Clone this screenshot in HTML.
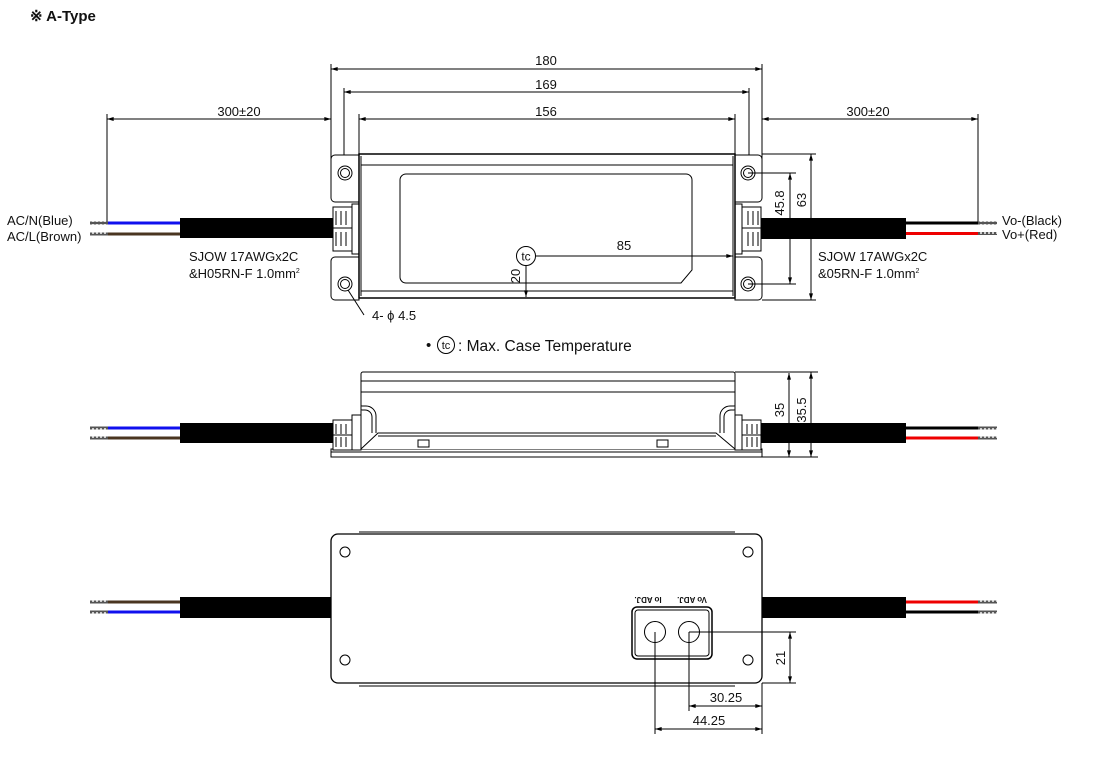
<!DOCTYPE html>
<html><head><meta charset="utf-8"><style>
html,body{margin:0;padding:0;background:#fff}
svg{display:block}
text{font-family:"Liberation Sans",Arial,sans-serif;fill:#111}
</style></head><body>
<svg width="1100" height="759" viewBox="0 0 1100 759" xmlns="http://www.w3.org/2000/svg">
<defs>
<marker id="a" viewBox="0 0 10 6" refX="10" refY="3" markerWidth="8" markerHeight="4" orient="auto-start-reverse" markerUnits="userSpaceOnUse"><path d="M0,0L10,3L0,6z" fill="#000"/></marker>
<pattern id="st" width="4" height="4" patternUnits="userSpaceOnUse"><rect width="4" height="4" fill="#555"/><rect width="2" height="2" fill="#ccc"/></pattern>
<g id="glandL">
<rect x="333" y="207" width="19" height="44" fill="#fff" stroke="#000" stroke-width="1"/>
<rect x="352" y="204" width="7" height="50" fill="#fff" stroke="#000" stroke-width="1"/>
<path d="M336,211v14M341,211v14M346,211v14M336,232v14M341,232v14M346,232v14M333,228h19" stroke="#000" stroke-width="1" fill="none"/>
</g>
</defs>
<text x="30" y="21" font-size="15" font-weight="bold">※ A-Type</text>

<g stroke="#000" stroke-width="1" fill="none">
<line x1="331" y1="64" x2="331" y2="160"/><line x1="762" y1="64" x2="762" y2="160"/>
<line x1="344" y1="88" x2="344" y2="165"/><line x1="749" y1="88" x2="749" y2="165"/>
<line x1="359" y1="114" x2="359" y2="154"/><line x1="735" y1="114" x2="735" y2="154"/>
<line x1="107" y1="114" x2="107" y2="222"/><line x1="978" y1="114" x2="978" y2="222"/>
<line x1="331" y1="69" x2="762" y2="69" marker-start="url(#a)" marker-end="url(#a)"/>
<line x1="344" y1="92" x2="749" y2="92" marker-start="url(#a)" marker-end="url(#a)"/>
<line x1="359" y1="119" x2="735" y2="119" marker-start="url(#a)" marker-end="url(#a)"/>
<line x1="107" y1="119" x2="331" y2="119" marker-start="url(#a)" marker-end="url(#a)"/>
<line x1="762" y1="119" x2="978" y2="119" marker-start="url(#a)" marker-end="url(#a)"/>
</g>
<text x="546" y="65" font-size="13" text-anchor="middle">180</text>
<text x="546" y="89" font-size="13" text-anchor="middle">169</text>
<text x="546" y="116" font-size="13" text-anchor="middle">156</text>
<text x="239" y="116" font-size="13" text-anchor="middle">300±20</text>
<text x="868" y="116" font-size="13" text-anchor="middle">300±20</text>

<rect x="90" y="221.5" width="18" height="3" fill="url(#st)"/><rect x="90" y="232.5" width="18" height="3" fill="url(#st)"/>
<rect x="108" y="221.5" width="72" height="3" fill="#1010ee"/><rect x="108" y="232.5" width="72" height="3" fill="#4a3520"/>
<rect x="180" y="218" width="153" height="20" fill="#000"/>
<rect x="760" y="218" width="146" height="21" fill="#000"/>
<rect x="906" y="221.5" width="72" height="3" fill="#000"/><rect x="906" y="232" width="72" height="3" fill="#e00"/>
<rect x="978" y="221.5" width="19" height="3" fill="url(#st)"/><rect x="978" y="232" width="19" height="3" fill="url(#st)"/>
<g stroke="#000" stroke-width="1" fill="#fff">
<path d="M359,155H335a4,4 0 0 0 -4,4V198a4,4 0 0 0 4,4H359z"/>
<path d="M359,257H335a4,4 0 0 0 -4,4V296a4,4 0 0 0 4,4H359z"/>
<path d="M735,155H758a4,4 0 0 1 4,4V198a4,4 0 0 1 -4,4H735z"/>
<path d="M735,257H758a4,4 0 0 1 4,4V296a4,4 0 0 1 -4,4H735z"/>
<use href="#glandL"/>
<use href="#glandL" transform="translate(1094,0) scale(-1,1)"/>
<rect x="359" y="154" width="376" height="144" stroke-width="1.5"/>
<line x1="361" y1="165" x2="733" y2="165"/><line x1="361" y1="291" x2="733" y2="291"/>
<line x1="361" y1="156" x2="361" y2="296"/><line x1="733" y1="156" x2="733" y2="296"/>
<path d="M406,174H686a6,6 0 0 1 6,6V270L681,283H406a6,6 0 0 1 -6,-6V180a6,6 0 0 1 6,-6z"/>
<circle cx="345" cy="173" r="7"/><circle cx="345" cy="173" r="4.5"/>
<circle cx="345" cy="284" r="7"/><circle cx="345" cy="284" r="4.5"/>
<circle cx="748" cy="173" r="7"/><circle cx="748" cy="173" r="4.5"/>
<circle cx="748" cy="284" r="7"/><circle cx="748" cy="284" r="4.5"/>
<circle cx="526" cy="256" r="9.5"/>
</g>
<text x="526" y="260.5" font-size="12" text-anchor="middle">tc</text>
<g stroke="#000" stroke-width="1" fill="none">
<line x1="536" y1="256" x2="733" y2="256" marker-end="url(#a)"/>
<line x1="526" y1="266" x2="526" y2="297" marker-end="url(#a)"/>
<line x1="348" y1="290" x2="364" y2="315"/>
<line x1="748" y1="173" x2="796" y2="173"/><line x1="748" y1="284" x2="796" y2="284"/>
<line x1="762" y1="154" x2="816" y2="154"/><line x1="762" y1="300" x2="816" y2="300"/>
<line x1="790" y1="173" x2="790" y2="284" marker-start="url(#a)" marker-end="url(#a)"/>
<line x1="811" y1="154" x2="811" y2="300" marker-start="url(#a)" marker-end="url(#a)"/>
</g>
<text x="624" y="250" font-size="13" text-anchor="middle">85</text>
<text transform="translate(520,276) rotate(-90)" font-size="13" text-anchor="middle">20</text>
<text transform="translate(784,203) rotate(-90)" font-size="13" text-anchor="middle">45.8</text>
<text transform="translate(806,200) rotate(-90)" font-size="13" text-anchor="middle">63</text>
<text x="372" y="320" font-size="13">4- ϕ 4.5</text>
<text x="7" y="225" font-size="13">AC/N(Blue)</text>
<text x="7" y="241" font-size="13">AC/L(Brown)</text>
<text x="189" y="261" font-size="13">SJOW 17AWGx2C</text>
<text x="189" y="278" font-size="13">&amp;H05RN-F 1.0mm<tspan font-size="7" dy="-5">2</tspan></text>
<text x="818" y="261" font-size="13">SJOW 17AWGx2C</text>
<text x="818" y="278" font-size="13">&amp;05RN-F 1.0mm<tspan font-size="7" dy="-5">2</tspan></text>
<text x="1002" y="225" font-size="13">Vo-(Black)</text>
<text x="1002" y="239" font-size="13">Vo+(Red)</text>
<text x="426" y="350" font-size="15">•</text>
<circle cx="446" cy="345" r="8.5" fill="none" stroke="#000"/>
<text x="446" y="349" font-size="11" text-anchor="middle">tc</text>
<text x="458" y="351" font-size="15.5">: Max. Case Temperature</text>

<rect x="90" y="426.5" width="18" height="3" fill="url(#st)"/><rect x="90" y="436.5" width="18" height="3" fill="url(#st)"/>
<rect x="108" y="426.5" width="72" height="3" fill="#1010ee"/><rect x="108" y="436.5" width="72" height="3" fill="#4a3520"/>
<rect x="180" y="423" width="153" height="20" fill="#000"/>
<rect x="760" y="423" width="146" height="20" fill="#000"/>
<rect x="906" y="426.5" width="72" height="3" fill="#000"/><rect x="906" y="436.5" width="72" height="3" fill="#e00"/>
<rect x="978" y="426.5" width="19" height="3" fill="url(#st)"/><rect x="978" y="436.5" width="19" height="3" fill="url(#st)"/>
<g stroke="#000" stroke-width="1" fill="#fff">
<rect x="331" y="449" width="431" height="8"/>
<line x1="331" y1="452" x2="762" y2="452"/>
<path d="M361,449V374a2,2 0 0 1 2,-2H733a2,2 0 0 1 2,2V449z"/>
<line x1="361" y1="381" x2="735" y2="381"/><line x1="361" y1="392" x2="735" y2="392"/>
<path d="M361,449L378,433H716L735,449"/>
<line x1="378" y1="436" x2="716" y2="436"/>
<path d="M361,406h5a10,10 0 0 1 10,10v17M361,410h4a7,7 0 0 1 7,7v16"/>
<path d="M735,406h-5a10,10 0 0 0 -10,10v17M735,410h-4a7,7 0 0 0 -7,7v16"/>
<rect x="418" y="440" width="11" height="7"/><rect x="657" y="440" width="11" height="7"/>
<rect x="333" y="420" width="19" height="30"/><rect x="352" y="415" width="9" height="35"/>
<path d="M336,424v10M341,424v10M346,424v10M336,437v10M341,437v10M346,437v10M333,435h19"/>
<rect x="742" y="420" width="19" height="30"/><rect x="735" y="415" width="7" height="35"/>
<path d="M747,424v10M752,424v10M757,424v10M747,437v10M752,437v10M757,437v10M742,435h19"/>
</g>
<g stroke="#000" stroke-width="1" fill="none">
<line x1="735" y1="372" x2="818" y2="372"/><line x1="762" y1="457" x2="818" y2="457"/>
<line x1="789" y1="373" x2="789" y2="457" marker-start="url(#a)" marker-end="url(#a)"/>
<line x1="811" y1="372" x2="811" y2="457" marker-start="url(#a)" marker-end="url(#a)"/>
</g>
<text transform="translate(784,410) rotate(-90)" font-size="13" text-anchor="middle">35</text>
<text transform="translate(806,410) rotate(-90)" font-size="13" text-anchor="middle">35.5</text>

<rect x="90" y="600.5" width="18" height="3" fill="url(#st)"/><rect x="90" y="610.5" width="18" height="3" fill="url(#st)"/>
<rect x="108" y="600.5" width="72" height="3" fill="#4a3520"/><rect x="108" y="610.5" width="72" height="3" fill="#1010ee"/>
<rect x="180" y="597" width="153" height="21" fill="#000"/>
<rect x="760" y="597" width="146" height="21" fill="#000"/>
<rect x="906" y="600.5" width="72" height="3" fill="#e00"/><rect x="906" y="610.5" width="72" height="3" fill="#000"/>
<rect x="978" y="600.5" width="19" height="3" fill="url(#st)"/><rect x="978" y="610.5" width="19" height="3" fill="url(#st)"/>
<g stroke="#000" stroke-width="1" fill="#fff">
<line x1="359" y1="532" x2="735" y2="532"/>
<rect x="331" y="534" width="431" height="149" rx="7" stroke-width="1.3"/>
<line x1="359" y1="686" x2="735" y2="686"/>
<circle cx="345" cy="552" r="5"/><circle cx="748" cy="552" r="5"/>
<circle cx="345" cy="660" r="5"/><circle cx="748" cy="660" r="5"/>
<rect x="632" y="607" width="80" height="52" rx="5" stroke-width="1.5"/>
<rect x="635" y="610" width="74" height="46" rx="3"/>
<circle cx="655" cy="632" r="10.5"/><circle cx="689" cy="632" r="10.5"/>
</g>
<text transform="translate(648,597) rotate(180)" font-size="8" font-weight="bold" text-anchor="middle">Io ADJ.</text>
<text transform="translate(692,597) rotate(180)" font-size="8" font-weight="bold" text-anchor="middle">Vo ADJ.</text>
<g stroke="#000" stroke-width="1" fill="none">
<line x1="689" y1="632" x2="796" y2="632"/><line x1="762" y1="683" x2="796" y2="683"/>
<line x1="790" y1="632" x2="790" y2="683" marker-start="url(#a)" marker-end="url(#a)"/>
<line x1="655" y1="632" x2="655" y2="734"/><line x1="689" y1="632" x2="689" y2="711"/>
<line x1="762" y1="683" x2="762" y2="734"/>
<line x1="689" y1="706" x2="762" y2="706" marker-start="url(#a)" marker-end="url(#a)"/>
<line x1="655" y1="729" x2="762" y2="729" marker-start="url(#a)" marker-end="url(#a)"/>
</g>
<text transform="translate(785,658) rotate(-90)" font-size="13" text-anchor="middle">21</text>
<text x="726" y="702" font-size="13" text-anchor="middle">30.25</text>
<text x="709" y="725" font-size="13" text-anchor="middle">44.25</text>
</svg>
</body></html>
